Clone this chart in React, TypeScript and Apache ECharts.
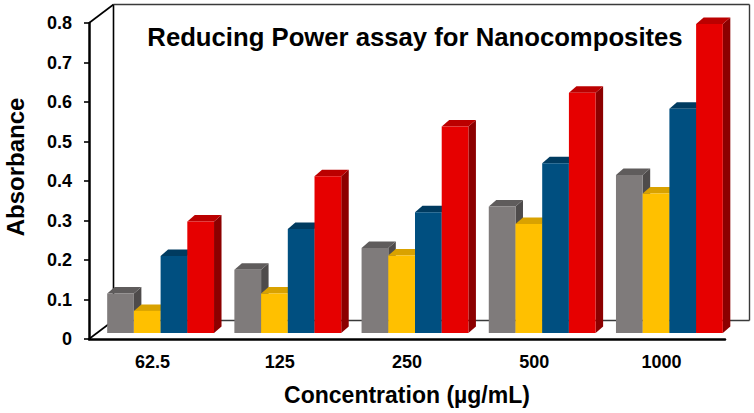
import React, { useEffect, useRef } from "react";
import * as echarts from "echarts";

const categories = ["62.5", "125", "250", "500", "1000"];
const seriesNames = ["Series 1", "Series 2", "Series 3", "Series 4"];
const grayValues = [0.1, 0.16, 0.215, 0.32, 0.4];
const yellowValues = [0.056, 0.1, 0.196, 0.276, 0.353];
const blueValues = [0.195, 0.263, 0.306, 0.43, 0.568];
const redValues = [0.282, 0.397, 0.523, 0.608, 0.782];
const yTicks = { min: 0, max: 0.8, interval: 0.1 };

const palette = [
  { front: "#7f7b7b", top: "#5f5c5c", side: "#4e4b4b" },
  { front: "#ffc000", top: "#d9a200", side: "#b38600" },
  { front: "#004f80", top: "#003b60", side: "#002c48" },
  { front: "#e60000", top: "#bb0000", side: "#8c0000" },
];

const FONT = "'Liberation Sans', Arial, sans-serif";
const W = 754;
const H = 413;
const L = 89;
const R = 725;
const T = 23;
const B = 339;
const DX = 24.5;
const DY = -18.5;

export default function App() {
  const ref = useRef<HTMLDivElement>(null);
  useEffect(() => {
    if (!ref.current) return;
    const chart = echarts.init(ref.current, undefined, { renderer: "svg" });
    const all = [grayValues, yellowValues, blueValues, redValues];
    const shiftX = 8;
    const shiftY = -6;
    const sx = 7.5;
    const sy = -6.5;
    const series = all.map((vals, si) => ({
      type: "custom",
      name: seriesNames[si],
      z: 10,
      data: vals.map((v, i) => [i, v]),
      renderItem: (params: any, api: any) => {
        const idx = api.value(0);
        const val = api.value(1);
        const topPt = api.coord([idx, val]);
        const basePt = api.coord([idx, 0]);
        const band = api.size([1, 0])[0];
        const w = band * 0.21;
        const cx = basePt[0] + shiftX;
        const left = cx - 2 * w + si * w;
        const top = topPt[1] + shiftY;
        const bottom = basePt[1] + shiftY;
        const c = palette[si];
        return {
          type: "group",
          children: [
            {
              type: "polygon",
              shape: {
                points: [
                  [left + w, top],
                  [left + w + sx, top + sy],
                  [left + w + sx, bottom + sy],
                  [left + w, bottom],
                ],
              },
              style: { fill: c.side },
            },
            {
              type: "polygon",
              shape: {
                points: [
                  [left, top],
                  [left + sx, top + sy],
                  [left + w + sx, top + sy],
                  [left + w, top],
                ],
              },
              style: { fill: c.top },
            },
            {
              type: "rect",
              shape: { x: left, y: top, width: w, height: bottom - top },
              style: { fill: c.front },
            },
          ],
        };
      },
    }));

    const lineStyle = { stroke: "#000", lineWidth: 1.6 };
    const grayLine = { stroke: "#3a3a3a", lineWidth: 1.4 };
    chart.setOption({
      animation: false,
      backgroundColor: "#fff",
      grid: { left: L, right: W - R, top: T, bottom: H - B },
      xAxis: {
        type: "category",
        data: categories,
        axisLine: { show: true, lineStyle: { color: "#000", width: 2.5 } },
        axisTick: { show: false },
        axisLabel: {
          color: "#000",
          fontSize: 18,
          fontWeight: "bold",
          fontFamily: FONT,
          margin: 14,
        },
        splitLine: { show: false },
      },
      yAxis: {
        type: "value",
        min: yTicks.min,
        max: yTicks.max,
        interval: yTicks.interval,
        axisLine: { show: true, lineStyle: { color: "#000", width: 2.5 } },
        axisTick: { show: true, length: 5, lineStyle: { color: "#000", width: 1.6 } },
        axisLabel: {
          color: "#000",
          fontSize: 18,
          fontWeight: "bold",
          fontFamily: FONT,
          margin: 17,
        },
        splitLine: { show: false },
      },
      graphic: [
        { type: "line", z: 0, shape: { x1: L + DX, y1: T + DY, x2: L + DX, y2: B + DY }, style: lineStyle },
        { type: "line", z: 0, shape: { x1: L + DX, y1: T + DY, x2: R + DX, y2: T + DY }, style: grayLine },
        { type: "line", z: 0, shape: { x1: R + DX, y1: T + DY, x2: R + DX, y2: B + DY }, style: grayLine },
        { type: "line", z: 0, shape: { x1: L + DX, y1: B + DY, x2: R + DX, y2: B + DY }, style: grayLine },
        { type: "line", z: 0, shape: { x1: L, y1: T, x2: L + DX, y2: T + DY }, style: lineStyle },
        { type: "line", z: 0, shape: { x1: L, y1: B, x2: L + DX, y2: B + DY }, style: lineStyle },
        {
          type: "text",
          z: 20,
          x: 415,
          y: 37,
          style: {
            text: "Reducing Power assay for Nanocomposites",
            fill: "#000",
            font: `bold 25.7px ${FONT}`,
            textAlign: "center",
            textVerticalAlign: "middle",
          },
        },
        {
          type: "text",
          z: 20,
          x: 15,
          y: 167,
          rotation: Math.PI / 2,
          style: {
            text: "Absorbance",
            fill: "#000",
            font: `bold 24px ${FONT}`,
            textAlign: "center",
            textVerticalAlign: "middle",
          },
        },
        {
          type: "text",
          z: 20,
          x: 407,
          y: 395,
          style: {
            text: "Concentration (µg/mL)",
            fill: "#000",
            font: `bold 23px ${FONT}`,
            textAlign: "center",
            textVerticalAlign: "middle",
          },
        },
      ],
      series,
    });
    return () => chart.dispose();
  }, []);
  return (
    <div
      ref={ref}
      style={{ position: "fixed", left: 0, top: 0, width: W, height: H }}
    />
  );
}
